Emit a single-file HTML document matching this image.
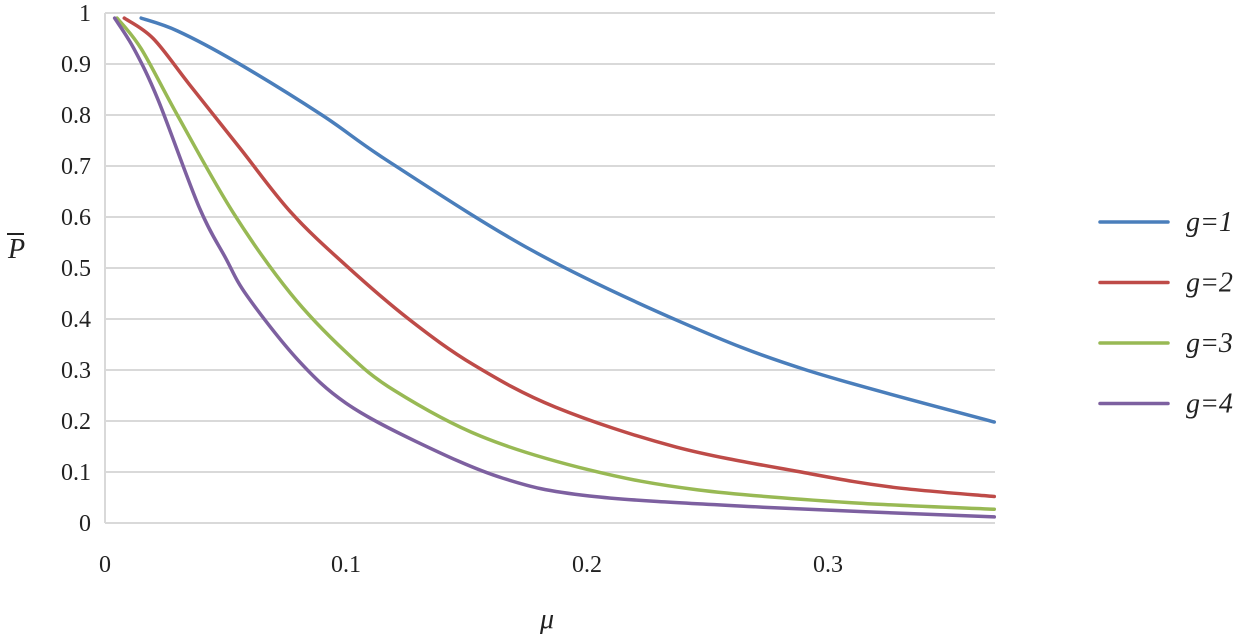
<!DOCTYPE html>
<html><head><meta charset="utf-8"><style>
body{margin:0;background:#fff;}
svg text{font-family:"Liberation Serif",serif;fill:#222;}
</style></head><body>
<svg width="1247" height="634">
<g id="grid"></g><g id="axes"></g><g id="series"></g><g id="legend"></g>
<text x="8" y="258" font-size="28" font-style="italic">P</text>
<line x1="7" y1="234" x2="24" y2="234" stroke="#222" stroke-width="2"/>
<text x="540" y="628" font-size="28" font-style="italic">μ</text>
</svg>
<script>
const xTicks=[0,0.1,0.2,0.3];
const xTickLabels=["0","0.1","0.2","0.3"];
const yTicks=[0,0.1,0.2,0.3,0.4,0.5,0.6,0.7,0.8,0.9,1];
const yTickLabels=["0","0.1","0.2","0.3","0.4","0.5","0.6","0.7","0.8","0.9","1"];
const seriesNames=["g=1","g=2","g=3","g=4"];
const seriesColors=["#4a7ebb","#be4b48","#98b954","#7d60a0"];
const g1x=[0.015,0.03,0.054,0.09,0.118,0.177,0.239,0.291,0.369];
const g1y=[0.99,0.965,0.905,0.80,0.708,0.535,0.394,0.30,0.198];
const g2x=[0.008,0.02,0.035,0.056,0.077,0.1,0.126,0.153,0.187,0.237,0.291,0.327,0.369];
const g2y=[0.99,0.95,0.86,0.735,0.61,0.505,0.40,0.31,0.227,0.149,0.098,0.07,0.052];
const g3x=[0.005,0.015,0.03,0.053,0.077,0.1,0.12,0.156,0.201,0.246,0.309,0.369];
const g3y=[0.99,0.93,0.80,0.61,0.45,0.335,0.26,0.17,0.104,0.065,0.04,0.027];
const g4x=[0.004,0.012,0.022,0.039,0.05,0.059,0.08,0.1,0.129,0.165,0.201,0.273,0.369];
const g4y=[0.99,0.93,0.83,0.62,0.52,0.445,0.32,0.235,0.16,0.088,0.053,0.031,0.012];
const X0=105,XS=2410,Y0=523,YS=510,XR=995;
const sx=v=>X0+v*XS, sy=v=>Y0-v*YS;
const NS="http://www.w3.org/2000/svg";
function mk(t,p,a){const e=document.createElementNS(NS,t);for(const k in a)e.setAttribute(k,a[k]);p.appendChild(e);return e;}
const grid=document.getElementById('grid'),axes=document.getElementById('axes'),ser=document.getElementById('series'),leg=document.getElementById('legend');
yTicks.forEach((v,i)=>{
 if(v>0){const l=mk('line',grid,{x1:X0,x2:XR,y1:sy(v),y2:sy(v),stroke:'#d9d9d9','stroke-width':2});
 
 }
 const t=mk('text',axes,{x:X0-14,y:sy(v)+8,'font-size':24,'text-anchor':'end'});t.textContent=yTickLabels[i];
 
 
});
const xa=mk('line',axes,{x1:X0,x2:XR,y1:Y0,y2:Y0,stroke:'#d9d9d9','stroke-width':2});


const ya=mk('line',axes,{x1:X0,x2:X0,y1:sy(1),y2:Y0,stroke:'#d9d9d9','stroke-width':2});


xTicks.forEach((v,i)=>{const t=mk('text',axes,{x:sx(v),y:572,'font-size':24,'text-anchor':'middle'});t.textContent=xTickLabels[i];
 
 });
function path(xs,ys){const p=xs.map((x,i)=>[sx(x),sy(ys[i])]);let d='M'+p[0][0]+','+p[0][1];
 for(let i=0;i<p.length-1;i++){const a=p[Math.max(0,i-1)],b=p[i],c=p[i+1],e=p[Math.min(p.length-1,i+2)];
 const c1=[b[0]+(c[0]-a[0])/6,b[1]+(c[1]-a[1])/6],c2=[c[0]-(e[0]-b[0])/6,c[1]-(e[1]-b[1])/6];
 d+=` C${c1[0]},${c1[1]} ${c2[0]},${c2[1]} ${c[0]},${c[1]}`;}return d;}
const all=[[g1x,g1y],[g2x,g2y],[g3x,g3y],[g4x,g4y]];
all.forEach((s,i)=>{const p=mk('path',ser,{d:path(s[0],s[1]),fill:'none',stroke:seriesColors[i],'stroke-width':3.5,'stroke-linecap':'round'});
 
 
 const y=222+i*60.5;
 const l=mk('line',leg,{x1:1100,x2:1168,y1:y,y2:y,stroke:seriesColors[i],'stroke-width':3.5,'stroke-linecap':'round'});
 
 
 const t=mk('text',leg,{x:1186,y:y+9,'font-size':28,'font-style':'italic'});t.textContent=seriesNames[i];
 
 
});
</script>
</body></html>
